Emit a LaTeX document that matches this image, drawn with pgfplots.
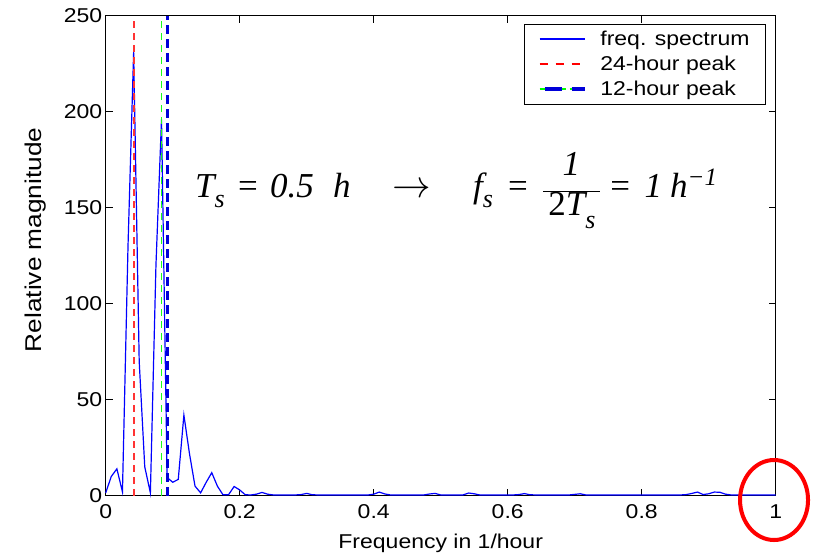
\documentclass[border=0pt]{standalone}
\usepackage{pgfplots}
\pgfplotsset{compat=1.18}
\usepackage{fontspec}
\setmainfont[FakeStretch=1.15]{Liberation Sans}
\newfontfamily\tnr{Liberation Serif}
\colorlet{thickblue}{blue!85!black}
\newcommand{\fs}{\fontsize{20}{24}\selectfont}
\newcommand{\tf}{\fontsize{35}{40}\selectfont\tnr}
\newcommand{\sub}[1]{\raisebox{#1}{\fontsize{26}{26}\selectfont\tnr\itshape s}}

\pgfplotstableread{
x y
0.0000 1.5
0.0083 10
0.0167 14
0.0250 2
0.0333 130
0.0417 231
0.0500 70
0.0583 15
0.0667 1.5
0.0750 120
0.0833 196
0.0917 9.5
0.1000 7
0.1083 8.5
0.1167 42
0.1250 22
0.1333 5
0.1417 1.5
0.1500 7
0.1583 12
0.1667 5
0.1750 0.5
0.1833 0.5
0.1917 4.8
0.2000 3
0.2083 0.5
0.2167 0.4
0.2250 0.8
0.2333 1.7
0.2417 0.8
0.2500 0.4
0.2583 0.4
0.2667 0.4
0.2750 0.4
0.2833 0.4
0.2917 0.6
0.3000 1.2
0.3083 0.5
0.3167 0.4
0.3250 0.4
0.3333 0.4
0.3417 0.4
0.3500 0.4
0.3583 0.4
0.3667 0.4
0.3750 0.4
0.3833 0.4
0.3917 0.4
0.4000 0.8
0.4083 1.9
0.4167 0.9
0.4250 0.4
0.4333 0.4
0.4417 0.4
0.4500 0.4
0.4583 0.4
0.4667 0.4
0.4750 0.4
0.4833 0.9
0.4917 1.2
0.5000 0.4
0.5083 0.4
0.5167 0.4
0.5250 0.4
0.5333 0.4
0.5417 1.4
0.5500 1.0
0.5583 0.4
0.5667 0.4
0.5750 0.4
0.5833 0.4
0.5917 0.4
0.6000 0.4
0.6083 0.4
0.6167 0.6
0.6250 1.1
0.6333 0.5
0.6417 0.4
0.6500 0.4
0.6583 0.4
0.6667 0.4
0.6750 0.4
0.6833 0.4
0.6917 0.4
0.7000 0.7
0.7083 1.0
0.7167 0.4
0.7250 0.4
0.7333 0.4
0.7417 0.4
0.7500 0.4
0.7583 0.4
0.7667 0.4
0.7750 0.4
0.7833 0.4
0.7917 0.4
0.8000 0.4
0.8083 0.4
0.8167 0.4
0.8250 0.4
0.8333 0.4
0.8417 0.4
0.8500 0.4
0.8583 0.4
0.8667 0.6
0.8750 1.2
0.8833 1.9
0.8917 0.6
0.9000 1.0
0.9083 1.9
0.9167 1.8
0.9250 0.8
0.9333 0.4
0.9417 0.4
0.9500 0.4
0.9583 0.4
0.9667 0.4
0.9750 0.4
0.9833 0.4
0.9917 0.4
1.0000 0.4
}\spectrum

\begin{document}
\begin{tikzpicture}
\begin{axis}[
  scale only axis, width=670pt, height=480pt,
  xmin=0, xmax=1, ymin=0, ymax=250,
  xtick={0,0.2,0.4,0.6,0.8,1},
  ytick={0,50,100,150,200,250},
  tick align=inside, major tick length=7pt,
  every tick/.style={black, line width=0.8pt},
  axis line style={line width=0.8pt, black},
  tick label style={font=\fs},
  xticklabel style={yshift=-5pt},
  /pgf/number format/assume math mode=true,
  xlabel={Frequency in 1/hour},
  ylabel={Relative magnitude},
  xlabel style={font=\fs, at={(axis description cs:0.5,-0.109)}, anchor=base},
  ylabel style={font=\fontsize{22.8}{26}\selectfont, at={(axis description cs:-0.0951,0.533)}, anchor=base},
  clip=false,
  legend cell align=left,
  legend style={at={(axis cs:1,250)}, anchor=north east, xshift=-10pt, yshift=-8pt,
    fill=white, font=\fs, row sep=5pt,
    inner xsep=14pt, inner ysep=5pt,
    /tikz/every odd column/.append style={column sep=12pt}},
]
\addplot[draw=blue, line width=1.2pt,
  legend image code/.code={\draw[draw=blue, line width=1.3pt] (0pt,0pt) -- (45pt,0pt);}]
  table[x=x, y=y] {\spectrum};
\addlegendentry{freq. spectrum\hspace{5pt}}
\addplot[draw=red!80, line width=1.8pt, dash pattern=on 7pt off 5pt,
  legend image code/.code={\draw[draw=red, line width=1.3pt, dash pattern=on 8pt off 8pt] (0pt,0pt) -- (45pt,0pt);}]
  coordinates {(0.041667,0) (0.041667,250)};
\addlegendentry{24-hour peak}
\addplot[draw=green!90, line width=1.8pt, dash pattern=on 7pt off 5pt,
  legend image code/.code={
    \draw[draw=green, line width=1.3pt, dash pattern=on 6pt off 4pt] (0pt,0pt) -- (45pt,0pt);
    \draw[draw=thickblue, line width=3.5pt, dash pattern=on 17pt off 10pt, dash phase=22pt] (0pt,0pt) -- (45pt,0pt);}]
  coordinates {(0.083333,0) (0.083333,250)};
\addlegendentry{12-hour peak}
\addplot[draw=thickblue, line width=3pt, dash pattern=on 9pt off 5pt, forget plot]
  coordinates {(0.091667,0) (0.091667,250)};

\node[anchor=base west, inner sep=0] at (axis cs:0.1333,155.57) {\tf\itshape T\sub{-10pt}};
\node[anchor=base west, inner sep=0] at (axis cs:0.1975,155.57) {\tf =};
\node[anchor=base west, inner sep=0] at (axis cs:0.2452,155.57) {\tf\itshape 0.5};
\node[anchor=base west, inner sep=0] at (axis cs:0.3393,155.57) {\tf\itshape h};
\node[anchor=base west, inner sep=0, scale=1.55] at (axis cs:0.4270,155.57) {\fontsize{24.88}{28}\selectfont$\rightarrow$};
\node[anchor=base west, inner sep=0] at (axis cs:0.5482,155.57) {\tf\itshape f\sub{-10pt}};
\node[anchor=base west, inner sep=0] at (axis cs:0.6004,155.57) {\tf =};
\node[anchor=base, inner sep=0] at (axis cs:0.6952,155.57)
  {\fontsize{35}{40}\selectfont$\displaystyle\frac{\hbox{\raisebox{5pt}{\tf\itshape 1}}}{\hbox{\kern5pt\tf 2\itshape T\sub{-13pt}\kern4pt}}$};
\node[anchor=base west, inner sep=0] at (axis cs:0.7530,155.57) {\tf =};
\node[anchor=base west, inner sep=0] at (axis cs:0.8040,155.57) {\tf\itshape 1};
\node[anchor=base west, inner sep=0] at (axis cs:0.8422,155.57)
  {\tf\itshape h\raisebox{12pt}{\fontsize{25}{25}\selectfont\tnr\char"2212\itshape 1}};

\draw[draw=red, line width=4pt] (axis cs:0.9975,-2.24) ellipse [x radius=34pt, y radius=40pt];

\coordinate (bbsw) at (rel axis cs:-0.15776,-0.12354);
\coordinate (bbne) at (rel axis cs:1.05716,1.03271);
\end{axis}
\pgfresetboundingbox
\useasboundingbox (bbsw) rectangle (bbne);
\end{tikzpicture}
\end{document}
